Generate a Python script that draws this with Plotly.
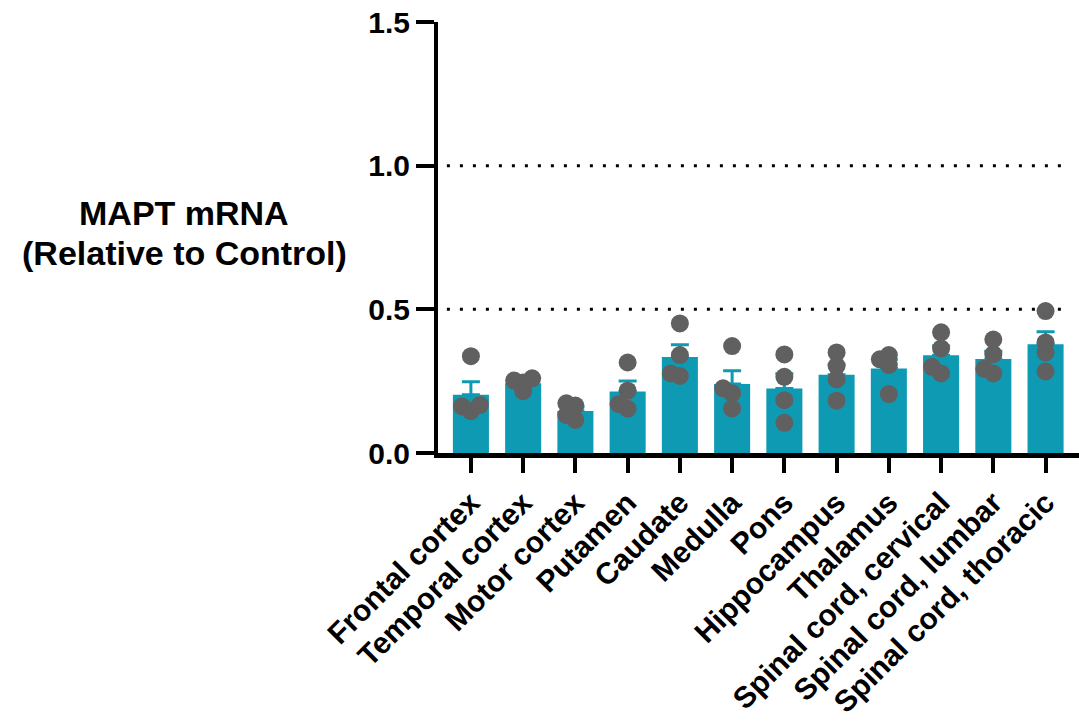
import numpy as np
import plotly.graph_objects as go

regions = ["Frontal cortex", "Temporal cortex", "Motor cortex", "Putamen", "Caudate",
           "Medulla", "Pons", "Hippocampus", "Thalamus", "Spinal cord, cervical",
           "Spinal cord, lumbar", "Spinal cord, thoracic"]

# Individual animals, MAPT mRNA relative to control
frontal_cortex = [0.337, 0.146, 0.167, 0.162]
temporal_cortex = [0.215, 0.260, 0.252, 0.245]
motor_cortex = [0.115, 0.173, 0.165, 0.132]
putamen = [0.315, 0.217, 0.154, 0.170]
caudate = [0.451, 0.341, 0.268, 0.277]
medulla = [0.372, 0.225, 0.208, 0.155]
pons = [0.343, 0.265, 0.184, 0.105]
hippocampus = [0.303, 0.350, 0.256, 0.182]
thalamus = [0.341, 0.326, 0.306, 0.205]
spinal_cervical = [0.420, 0.364, 0.300, 0.277]
spinal_lumbar = [0.395, 0.344, 0.293, 0.277]
spinal_thoracic = [0.494, 0.385, 0.350, 0.284]

groups = [frontal_cortex, temporal_cortex, motor_cortex, putamen, caudate, medulla,
          pons, hippocampus, thalamus, spinal_cervical, spinal_lumbar, spinal_thoracic]

y_ticks = [0.0, 0.5, 1.0, 1.5]
reference_levels = [0.5, 1.0]
y_title_lines = ["MAPT mRNA", "(Relative to Control)"]

BAR = "#0f9ab4"
DOT = "#606060"
FONT = "Liberation Sans, Arial, sans-serif"

means = [float(np.mean(g)) for g in groups]
sems = [float(np.std(g, ddof=1) / np.sqrt(len(g))) for g in groups]

# Simple beeswarm so overlapping points are nudged sideways (in pixel space)
PX_PER_X = 52.2
PX_PER_Y = 287.5
STEP_PX = 9.0
MIN_DIST_PX = 8.0


def swarm_offsets(values):
    order = np.argsort(values)
    placed = []
    offsets = [0.0] * len(values)
    for i in order:
        ypx = values[i] * PX_PER_Y
        for k in [0, -1, 1, -2, 2, -3, 3]:
            xpx = k * STEP_PX
            if all(np.hypot(xpx - px, ypx - py) >= MIN_DIST_PX for px, py in placed):
                break
        placed.append((xpx, ypx))
        offsets[i] = xpx / PX_PER_X
    return offsets


xs, ys = [], []
for idx, g in enumerate(groups):
    for off, v in zip(swarm_offsets(g), g):
        xs.append(idx + off)
        ys.append(v)

positions = list(range(len(regions)))

fig = go.Figure()
fig.add_trace(go.Bar(
    x=positions, y=means, width=0.69, marker=dict(color=BAR, line=dict(width=0)),
    error_y=dict(type="data", array=sems, arrayminus=[0] * len(sems), symmetric=False,
                 color=BAR, thickness=3, width=9),
    showlegend=False, hoverinfo="skip",
))
fig.add_trace(go.Scatter(
    x=xs, y=ys, mode="markers",
    marker=dict(size=18, color=DOT, line=dict(width=0)),
    showlegend=False, hoverinfo="skip",
))

for lvl in reference_levels:
    fig.add_shape(type="line", xref="x", yref="y", x0=-0.46, x1=11.44, y0=lvl, y1=lvl,
                  line=dict(color="black", width=3, dash="3px,10px"), layer="below")

# Two-line horizontal axis title with tight line spacing
for line_text, ypos in zip(y_title_lines, [0.557, 0.464]):
    fig.add_annotation(
        text=f"<b>{line_text}</b>", xref="paper", yref="paper",
        x=-0.396, y=ypos, xanchor="center", yanchor="middle", showarrow=False,
        font=dict(family=FONT, size=34, color="black"),
    )

fig.update_layout(
    width=1079, height=725,
    margin=dict(l=438, r=0, t=22, b=272, pad=0, autoexpand=False),
    plot_bgcolor="white", paper_bgcolor="white",
    font=dict(family=FONT, color="black", weight="bold"),
    bargap=0.3,
)
fig.update_xaxes(
    range=[-0.63, 11.64], tickmode="array", tickvals=positions, ticktext=regions,
    tickangle=-45, tickfont=dict(family=FONT, size=30, color="black", weight="bold"),
    showline=True, linecolor="black", linewidth=5, ticks="outside", ticklen=15,
    tickwidth=4, tickcolor="black", showgrid=False, zeroline=False, automargin=False,
)
fig.update_yaxes(
    range=[0, 1.5], tickmode="array", tickvals=y_ticks, tickformat=".1f",
    tickfont=dict(family=FONT, size=30, color="black", weight="bold"),
    showline=True, linecolor="black", linewidth=4, ticks="outside", ticklen=18,
    tickwidth=4, tickcolor="black", showgrid=False, zeroline=False, automargin=False,
)

fig.write_html("out.html")
